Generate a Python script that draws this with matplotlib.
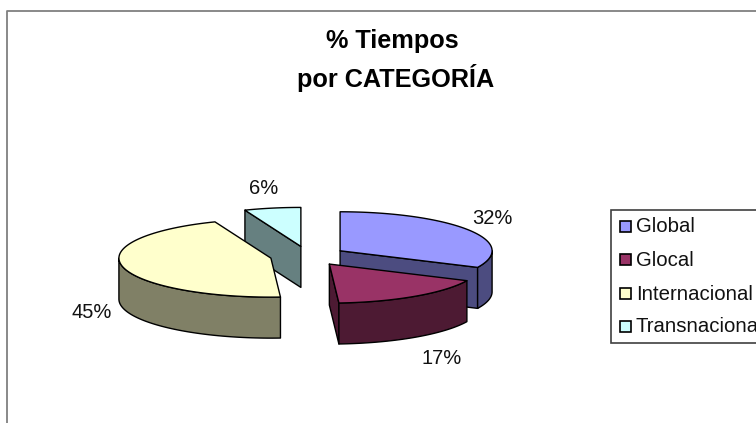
import numpy as np
import matplotlib
matplotlib.use("Agg")
import matplotlib.pyplot as plt
from matplotlib.patches import Polygon, Rectangle

plt.rcParams['font.family'] = ['Liberation Sans', 'DejaVu Sans']

categorias = ["Global", "Glocal", "Internacional", "Transnacional"]
valores = [32, 17, 45, 6]
colores = ["#9999FF", "#993366", "#FFFFCC", "#CCFFFF"]
oscuros = ["#4C4C80", "#4D1A33", "#808066", "#668080"]

# pie geometry in pixels
cx, cy = 308, 256
rx, ry = 152, 39
prof = 41
expl = 0.25

fig = plt.figure(figsize=(7.56, 4.23), dpi=100)
ax = fig.add_axes([0, 0, 1, 1])
ax.set_xlim(0, 756)
ax.set_ylim(423, 0)
ax.axis("off")

# chart frame
ax.plot([6.5, 6.5, 756], [423, 11.5, 11.5], color="#808080", lw=1.3)

ax.text(392, 41, "% Tiempos", ha="center", va="center", fontsize=18.2, fontweight="bold")
ax.text(396, 78, "por CATEGORÍA", ha="center", va="center", fontsize=18.2, fontweight="bold")


def punto(x0, y0, ang):
    a = np.radians(ang)
    return x0 + rx * np.cos(a), y0 - ry * np.sin(a)


def porcion(i, a1, a2):
    mid = np.radians((a1 + a2) / 2)
    x0 = cx + expl * rx * np.cos(mid)
    y0 = cy - expl * ry * np.sin(mid)
    kw = dict(edgecolor="black", lw=1, joinstyle="round")

    # cut faces, only the ones turned towards the viewer
    for ang, normal in ((a1, a1 + 90), (a2, a2 - 90)):
        if np.sin(np.radians(normal)) < -0.01:
            x1, y1 = punto(x0, y0, ang)
            ax.add_patch(Polygon([(x0, y0), (x1, y1), (x1, y1 + prof), (x0, y0 + prof)],
                                 facecolor=oscuros[i], **kw))

    # outer rim
    r1, r2 = min(a1, 0), max(a2, -180)
    if r1 > r2:
        angs = np.linspace(r1, r2, 60)
        xs, ys = punto(x0, y0, angs)
        arriba = np.column_stack([xs, ys])
        abajo = np.column_stack([xs, ys + prof])[::-1]
        ax.add_patch(Polygon(np.vstack([arriba, abajo]), facecolor=oscuros[i], **kw))

    # top
    angs = np.linspace(a1, a2, 80)
    xs, ys = punto(x0, y0, angs)
    ax.add_patch(Polygon(np.vstack([[x0, y0], np.column_stack([xs, ys])]),
                         facecolor=colores[i], **kw))


limites = 90 - np.cumsum([0] + valores) * 3.6
for i in [3, 2, 0, 1]:
    porcion(i, limites[i], limites[i + 1])

# data labels
pos_x = [492, 442, 92, 264]
pos_y = [218, 358, 313, 188]
for v, x, y in zip(valores, pos_x, pos_y):
    ax.text(x, y, f"{v}%", ha="center", va="center", fontsize=14.5, color="#111111")

# legend (runs off the right edge, as in the original)
ax.add_patch(Rectangle((611, 210), 160, 133, facecolor="white", edgecolor="#404040", lw=1.2))
leg_y = [227, 260, 294, 327]
for nombre, c, y in zip(categorias, colores, leg_y):
    ax.add_patch(Rectangle((619.5, y - 5.5), 11, 11, facecolor=c, edgecolor="black", lw=1.2))
    ax.text(636, y, nombre, ha="left", va="center", fontsize=14.7, color="#111111")

fig.savefig("out.png", dpi=100)
